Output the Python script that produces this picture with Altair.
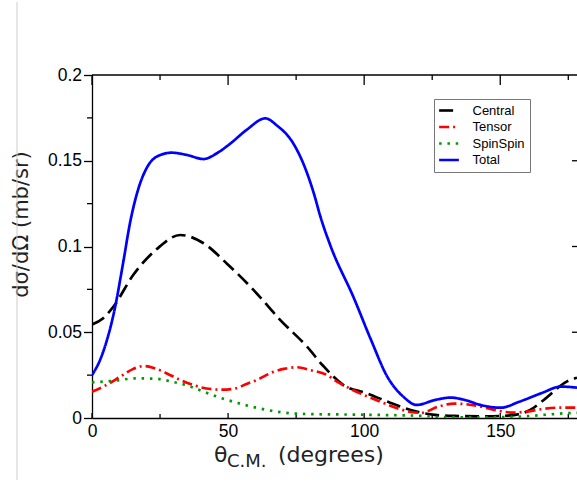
import altair as alt
import pandas as pd

# ---------------- data ----------------
series_names = ["Central", "Tensor", "SpinSpin", "Total"]

central_deg = [0, 4, 7.9, 15.2, 23.8, 32.4, 41, 49.6, 59.4, 69.2, 79, 85, 92.4, 101, 109.5,
               119.3, 126, 133, 142, 150, 155, 161, 166, 174.4, 178.2]
central_val = [0.0545, 0.058, 0.065, 0.0835, 0.0985, 0.1067, 0.1019, 0.090, 0.0746, 0.0571,
               0.0416, 0.0303, 0.0192, 0.0144, 0.0089, 0.0037, 0.0018, 0.0012, 0.0010,
               0.0012, 0.0017, 0.0047, 0.0105, 0.0212, 0.0235]

tensor_deg = [0, 5, 10.3, 15, 19.2, 23, 27.5, 32, 37.3, 42, 47.7, 52, 57, 60.6, 66.8, 71,
              75.4, 80, 86.4, 90, 95, 99.9, 106, 112.2, 117, 121, 127, 133, 140, 145.3,
              150, 155.1, 160, 165, 171, 178.2]
tensor_val = [0.0153, 0.019, 0.024, 0.0285, 0.0303, 0.029, 0.026, 0.0225, 0.0192, 0.0172,
              0.0165, 0.017, 0.020, 0.0222, 0.027, 0.0288, 0.0296, 0.028, 0.025, 0.0212,
              0.017, 0.0134, 0.0095, 0.0057, 0.0035, 0.003, 0.0065, 0.0084, 0.0075,
              0.0057, 0.004, 0.0031, 0.0038, 0.0051, 0.006, 0.006]

spin_deg = [0, 7.2, 16.4, 23.2, 29.3, 35.5, 41.6, 47.7, 53.9, 60.3, 69.8, 79, 95, 112, 122,
            127, 145, 154, 161, 173.5, 178.2]
spin_val = [0.0208, 0.0216, 0.0231, 0.0229, 0.0212, 0.0187, 0.015, 0.0115, 0.0086, 0.006,
            0.0033, 0.0023, 0.002, 0.0016, 0.0012, 0.0005, 0.0004, 0.0006, 0.0012, 0.0027,
            0.003]

total_deg = [0, 3, 5.4, 8, 11.5, 14, 17, 20, 23.8, 29.3, 34.8, 41, 45.8, 50.8, 56.8, 63.7,
             68, 74, 78, 81.5, 84, 87.6, 96.2, 102.4, 108.5, 114.4, 119.3, 126, 131.8,
             137, 143, 150.2, 157, 165, 172.3, 178.2]
total_val = [0.025, 0.034, 0.045, 0.061, 0.091, 0.114, 0.1335, 0.1455, 0.1524, 0.1547, 0.1534,
             0.151, 0.1543, 0.160, 0.168, 0.1747, 0.1705, 0.160, 0.147, 0.131, 0.117, 0.1005,
             0.070, 0.046, 0.0241, 0.0124, 0.0076, 0.0105, 0.0119, 0.0105, 0.0075, 0.006,
             0.0095, 0.0144, 0.0183, 0.0177]

x_major = [0, 50, 100, 150]
x_minor = [25, 75, 125, 175]
y_major = [0, 0.05, 0.1, 0.15, 0.2]
y_minor = [0.025, 0.075, 0.125, 0.175]
y_right_major = [0.05, 0.1, 0.15]

# ---------------- build table ----------------
rows = []
for name, xs_, ys_ in [("Central", central_deg, central_val),
                       ("Tensor", tensor_deg, tensor_val),
                       ("SpinSpin", spin_deg, spin_val),
                       ("Total", total_deg, total_val)]:
    for i, (a, b) in enumerate(zip(xs_, ys_)):
        rows.append({"series": name, "deg": a, "val": b, "order": i})
df = pd.DataFrame(rows)

W, H = 485, 343
X_MAX = 178.2
xscale = alt.Scale(domain=[0, X_MAX], nice=False, zero=False)
yscale = alt.Scale(domain=[0, 0.2], nice=False)

colors = ["#000000", "#ff0000", "#009a00", "#0000ff"]
dashes = [[14, 6], [10, 4, 2, 4], [2.5, 5.8], [1, 0]]

legend = alt.Legend(title=None, orient="none", legendX=342, legendY=24,
                    symbolType="M-1.9,0H1.9", symbolSize=108, symbolStrokeWidth=2.6,
                    symbolOffset=3.5,
                    labelFont="Liberation Sans", labelFontSize=13, labelColor="black",
                    labelOffset=17, padding=5, rowPadding=2.5,
                    strokeColor="#777777", fillColor="white")

lines = alt.Chart(df).mark_line(interpolate="monotone", strokeWidth=2.7, clip=True).encode(
    x=alt.X("deg:Q", scale=xscale,
            axis=alt.Axis(values=x_major, title=None, ticks=False, tickSize=0,
                          labelPadding=4, labelFont="Liberation Sans", labelFontSize=17.5,
                          labelColor="black", domainColor="black", domainWidth=1.3,
                          grid=False, labelFlush=False)),
    y=alt.Y("val:Q", scale=yscale,
            axis=alt.Axis(values=y_major, format="~g", title="dσ/dΩ (mb/sr)",
                          tickSize=8.5, tickColor="black", tickWidth=1.3,
                          labelPadding=2, labelFont="Liberation Sans", labelFontSize=17.5,
                          labelColor="black", domainColor="black", domainWidth=1.3,
                          grid=False, titleFont="DejaVu Sans", titleFontSize=21,
                          titleFontWeight="normal", titleColor="#222222",
                          titleAngle=270, titleX=-71, titleY=149,
                          titleAlign="center", titleBaseline="middle")),
    color=alt.Color("series:N", scale=alt.Scale(domain=series_names, range=colors),
                    legend=legend, sort=series_names),
    strokeDash=alt.StrokeDash("series:N", scale=alt.Scale(domain=series_names, range=dashes),
                              legend=legend, sort=series_names),
    order="order:Q",
)

tick_style = dict(color="black", strokeWidth=1.3)

top_major = alt.Chart(pd.DataFrame({"t": x_major})).mark_rule(**tick_style).encode(
    x=alt.X("t:Q", scale=xscale), y=alt.value(0), y2=alt.value(10))
top_minor = alt.Chart(pd.DataFrame({"t": x_minor})).mark_rule(**tick_style).encode(
    x=alt.X("t:Q", scale=xscale), y=alt.value(0), y2=alt.value(5))
bot_major = alt.Chart(pd.DataFrame({"t": x_major})).mark_rule(**tick_style).encode(
    x=alt.X("t:Q", scale=xscale), y=alt.value(H), y2=alt.value(H - 5))
bot_minor = alt.Chart(pd.DataFrame({"t": x_minor})).mark_rule(**tick_style).encode(
    x=alt.X("t:Q", scale=xscale), y=alt.value(H), y2=alt.value(H - 4))
left_minor = alt.Chart(pd.DataFrame({"t": y_minor})).mark_rule(**tick_style).encode(
    y=alt.Y("t:Q", scale=yscale), x=alt.value(-5), x2=alt.value(0))
right_major = alt.Chart(pd.DataFrame({"t": y_right_major})).mark_rule(**tick_style).encode(
    y=alt.Y("t:Q", scale=yscale), x=alt.value(W - 5), x2=alt.value(W))

one = pd.DataFrame({"a": [0]})
top_frame = alt.Chart(one).mark_rule(**tick_style).encode(
    x=alt.value(0), x2=alt.value(W), y=alt.value(0))
gray_line = alt.Chart(one).mark_rule(color="#cccccc", strokeWidth=1).encode(
    x=alt.value(-75), y=alt.value(-73), y2=alt.value(405))

title_font = dict(font="DejaVu Sans", color="#222222", align="left", baseline="alphabetic")
t_theta = alt.Chart(one).mark_text(text="θ", fontSize=22, **title_font).encode(
    x=alt.value(122), y=alt.value(387))
t_cm = alt.Chart(one).mark_text(text="C.M.", fontSize=18, **title_font).encode(
    x=alt.value(135), y=alt.value(392))
t_deg = alt.Chart(one).mark_text(text="(degrees)", fontSize=22, **title_font).encode(
    x=alt.value(186), y=alt.value(387))

chart = alt.layer(
    gray_line, top_frame, top_major, top_minor, bot_major, bot_minor, left_minor,
    right_major, lines, t_theta, t_cm, t_deg
).properties(
    width=W, height=H,
    autosize=alt.AutoSizeParams(type="none"),
    padding={"left": 92, "top": 75, "right": 0, "bottom": 68},
    background="white",
).configure_view(stroke=None)

chart.save("out.html", embed_options={"renderer": "svg", "actions": False})
